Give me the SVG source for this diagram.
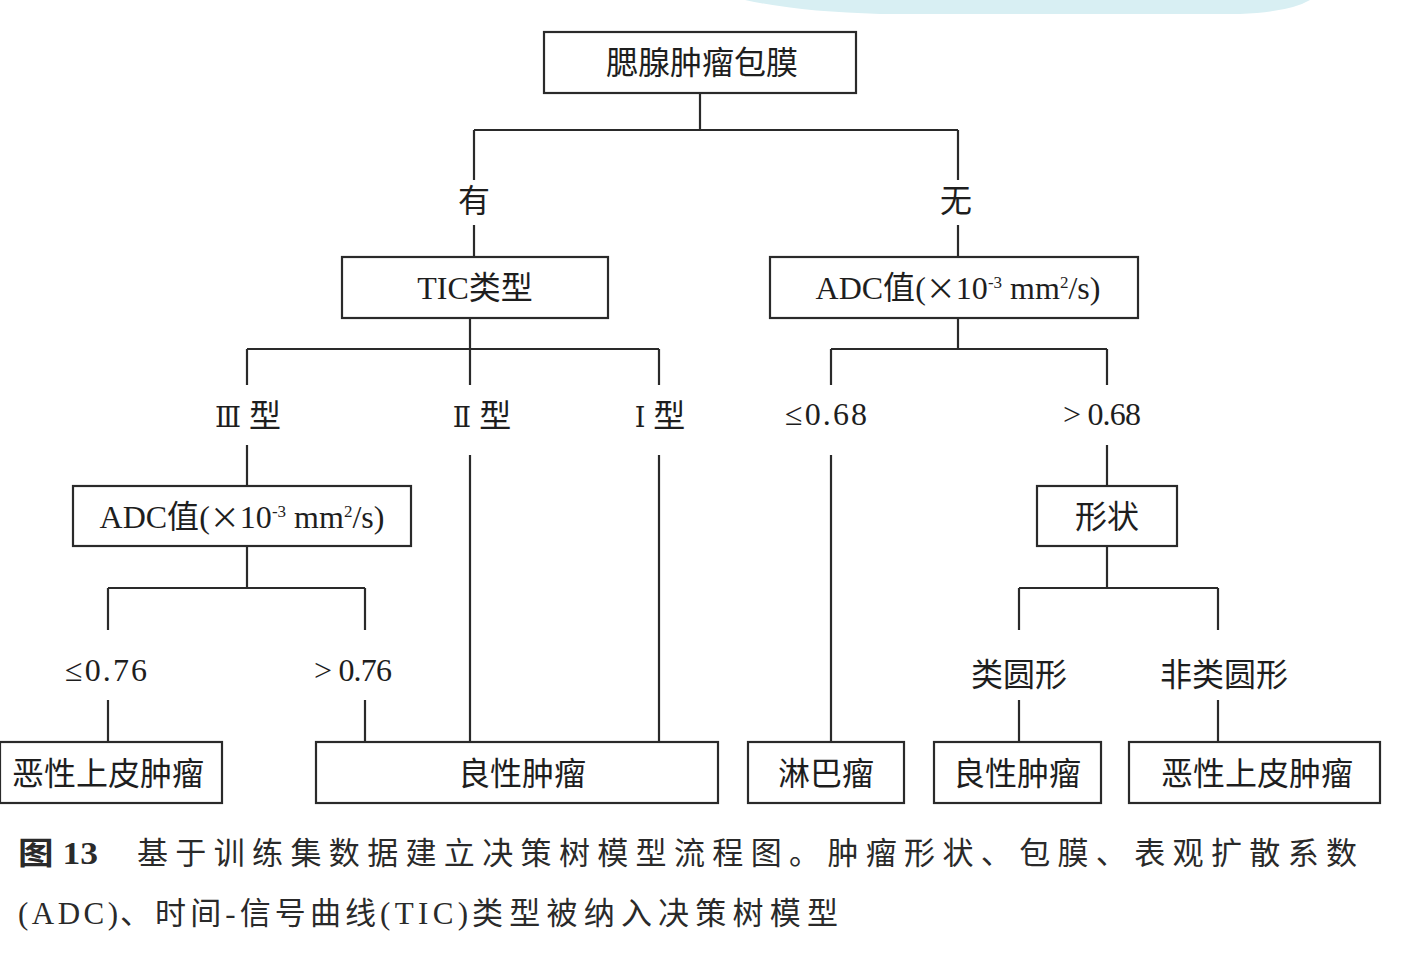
<svg xmlns="http://www.w3.org/2000/svg" width="1404" height="959" viewBox="0 0 1404 959">
<style>
.box{fill:#fff;stroke:#2a2a2a;stroke-width:2.2}
.ln{stroke:#2a2a2a;stroke-width:2.2;fill:none}
.t{font-family:"Liberation Serif","Noto Sans CJK SC",serif;font-size:32px;fill:#1e1e1e;text-anchor:middle}
.n{font-family:"Liberation Serif","DejaVu Serif",serif;font-size:32px;fill:#1e1e1e;text-anchor:middle}
.rn{font-family:"DejaVu Serif","Liberation Serif",serif;font-size:27px}
.x{font-family:"Noto Sans CJK SC",sans-serif;font-size:30px}
.cap{font-family:"Liberation Serif","Noto Sans CJK SC",serif;font-size:31px;fill:#2a2a2a}
</style>
<rect width="1404" height="959" fill="#fff"/>
<g id="watermark">
<path d="M745 0 Q800 12 880 14 L1240 14 Q1290 12 1310 0 Z" fill="#d8eff3"/>
</g>
<g id="connectors">
<path class="ln" d="M700 93V130M474 130H958M474 130V180M474 225V257M958 130V180M958 225V257"/>
<path class="ln" d="M470 318V349M247 349H659M247 349V385M247 445V486M470 349V385M470 455V742M659 349V385M659 455V742"/>
<path class="ln" d="M958 318V349M831 349H1107M831 349V385M831 455V742M1107 349V385M1107 445V486"/>
<path class="ln" d="M247 546V588M108 588H365M108 588V630M108 700V742M365 588V630M365 700V742"/>
<path class="ln" d="M1107 546V588M1019 588H1218M1019 588V630M1019 700V742M1218 588V630M1218 700V742"/>
</g>
<g id="labels">
<text class="t" x="474" y="212">有</text>
<text class="t" x="956" y="212">无</text>
<text class="t" x="248" y="427"><tspan class="rn">Ⅲ</tspan> 型</text>
<text class="t" x="482" y="427"><tspan class="rn">Ⅱ</tspan> 型</text>
<text class="t" x="660" y="427"><tspan class="rn">Ⅰ</tspan> 型</text>
<text class="n" x="826" y="425" textLength="82" lengthAdjust="spacing">≤0.68</text>
<text class="n" x="1102" y="425" textLength="78" lengthAdjust="spacing">&gt; 0.68</text>
<text class="n" x="106" y="681" textLength="82" lengthAdjust="spacing">≤0.76</text>
<text class="n" x="353" y="681" textLength="78" lengthAdjust="spacing">&gt; 0.76</text>
<text class="t" x="1019" y="686">类圆形</text>
<text class="t" x="1224" y="686">非类圆形</text>
</g>
<g id="n-root"><rect class="box" x="544" y="32" width="312" height="61"/><text class="t" x="702" y="74">腮腺肿瘤包膜</text></g>
<g id="n-tic"><rect class="box" x="342" y="257" width="266" height="61"/><text class="t" x="475" y="299">TIC类型</text></g>
<g id="n-adc1"><rect class="box" x="770" y="257" width="368" height="61"/><text class="t" x="958" y="299" textLength="285" lengthAdjust="spacing">ADC值(<tspan class="x">×</tspan>10<tspan font-size="17" dy="-11">-3</tspan><tspan dy="11"> mm</tspan><tspan font-size="17" dy="-11">2</tspan><tspan dy="11">/s)</tspan></text></g>
<g id="n-adc2"><rect class="box" x="73" y="486" width="338" height="60"/><text class="t" x="242" y="528" textLength="285" lengthAdjust="spacing">ADC值(<tspan class="x">×</tspan>10<tspan font-size="17" dy="-11">-3</tspan><tspan dy="11"> mm</tspan><tspan font-size="17" dy="-11">2</tspan><tspan dy="11">/s)</tspan></text></g>
<g id="n-shape"><rect class="box" x="1037" y="486" width="140" height="60"/><text class="t" x="1107" y="528">形状</text></g>
<g id="n-mal1"><rect class="box" x="0" y="742" width="222" height="61"/><text class="t" x="108" y="785">恶性上皮肿瘤</text></g>
<g id="n-ben1"><rect class="box" x="316" y="742" width="402" height="61"/><text class="t" x="522" y="785">良性肿瘤</text></g>
<g id="n-lym"><rect class="box" x="748" y="742" width="156" height="61"/><text class="t" x="826" y="785">淋巴瘤</text></g>
<g id="n-ben2"><rect class="box" x="934" y="742" width="167" height="61"/><text class="t" x="1017" y="785">良性肿瘤</text></g>
<g id="n-mal2"><rect class="box" x="1129" y="742" width="251" height="61"/><text class="t" x="1257" y="785">恶性上皮肿瘤</text></g>
<g id="caption">
<text class="cap" x="18" y="864" font-weight="bold" textLength="80" lengthAdjust="spacingAndGlyphs">图 13</text>
<text class="cap" x="137" y="864" textLength="1220" lengthAdjust="spacing">基于训练集数据建立决策树模型流程图。肿瘤形状、包膜、表观扩散系数</text>
<text class="cap" x="18" y="924" font-size="33" textLength="100" lengthAdjust="spacing">(ADC)</text>
<text class="cap" x="120" y="924" textLength="256" lengthAdjust="spacing">、时间-信号曲线</text>
<text class="cap" x="380" y="924" font-size="33" textLength="88" lengthAdjust="spacing">(TIC)</text>
<text class="cap" x="472" y="924" textLength="366" lengthAdjust="spacing">类型被纳入决策树模型</text>
</g>
</svg>
